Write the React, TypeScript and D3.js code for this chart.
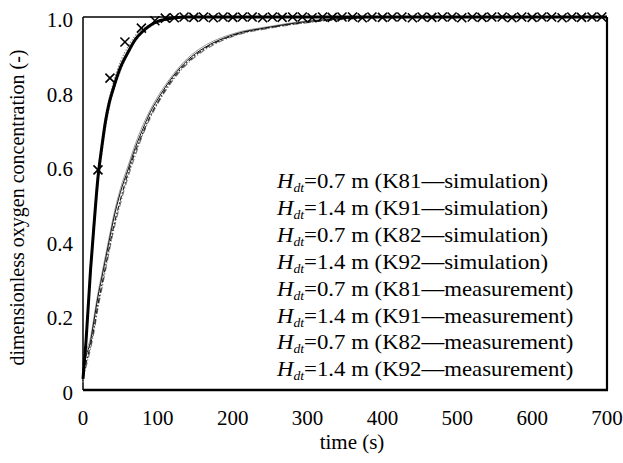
import React from 'react';
import * as d3 from 'd3';

// time axis for simulated curves (s)
const simTime = [0, 4, 10, 15, 20, 25, 30, 35, 40, 50, 60, 70, 80, 90, 100, 120, 140, 160, 200, 250, 300, 350, 400, 500, 600, 700];

const k81Sim = [0.03, 0.13, 0.32, 0.45, 0.57, 0.65, 0.72, 0.77, 0.805, 0.865, 0.905, 0.94, 0.962, 0.978, 0.988, 0.997, 1.0, 1.0, 1.0, 1.0, 1.0, 1.0, 1.0, 1.0, 1.0, 1.0];
const k82Sim = [0.04, 0.12, 0.3, 0.43, 0.55, 0.63, 0.7, 0.755, 0.795, 0.855, 0.9, 0.935, 0.958, 0.974, 0.985, 0.995, 0.999, 1.0, 1.0, 1.0, 1.0, 1.0, 1.0, 1.0, 1.0, 1.0];
const k91Sim = [0.05, 0.09, 0.13, 0.19, 0.25, 0.3, 0.35, 0.4, 0.45, 0.53, 0.59, 0.65, 0.7, 0.745, 0.78, 0.84, 0.885, 0.915, 0.952, 0.973, 0.988, 0.996, 1.0, 1.0, 1.0, 1.0];
const k92Sim = [0.06, 0.1, 0.14, 0.2, 0.26, 0.31, 0.36, 0.41, 0.46, 0.54, 0.6, 0.66, 0.71, 0.752, 0.787, 0.845, 0.89, 0.92, 0.955, 0.975, 0.99, 0.997, 1.0, 1.0, 1.0, 1.0];

// measured curves
const measTime = [0, 5, 10, 15, 20, 25, 30, 40, 50, 60, 70, 80, 90, 100, 120, 140, 160, 200, 250, 300, 350, 400, 500, 600, 700];
const k82Meas = [0.02, 0.16, 0.33, 0.47, 0.58, 0.66, 0.73, 0.82, 0.88, 0.92, 0.95, 0.968, 0.98, 0.988, 0.996, 0.999, 1.0, 1.0, 1.0, 1.0, 1.0, 1.0, 1.0, 1.0, 1.0];
const k91Meas = [0.04, 0.08, 0.12, 0.17, 0.23, 0.28, 0.33, 0.43, 0.51, 0.58, 0.64, 0.69, 0.735, 0.772, 0.835, 0.88, 0.912, 0.95, 0.972, 0.986, 0.995, 1.0, 1.0, 1.0, 1.0];
const k92Meas = [0.03, 0.07, 0.11, 0.16, 0.22, 0.27, 0.32, 0.42, 0.5, 0.57, 0.63, 0.685, 0.73, 0.768, 0.83, 0.876, 0.908, 0.948, 0.97, 0.985, 0.994, 0.999, 1.0, 1.0, 1.0];

// K81 measurement points (crosses)
const k81MeasTime = [20, 36, 56, 78, 96, 110, 122, 135, 148, 161, 174, 187, 200, 213, 226, 240, 253, 266, 280, 293, 306, 320, 333, 346, 360, 373, 386, 400, 413, 426, 440, 453, 466, 480, 493, 506, 520, 533, 546, 560, 573, 586, 600, 613, 626, 640, 653, 666, 680, 693];
const k81MeasVal = [0.59, 0.836, 0.933, 0.97, 0.99, 0.997, 0.998, 1.0, 0.999, 1.0, 0.998, 1.0, 0.999, 1.0, 1.0, 0.998, 1.0, 0.999, 1.0, 1.0, 0.998, 1.0, 0.999, 1.0, 1.0, 0.998, 1.0, 0.999, 1.0, 1.0, 0.998, 1.0, 0.999, 1.0, 1.0, 0.998, 1.0, 0.999, 1.0, 1.0, 0.998, 1.0, 0.999, 1.0, 1.0, 0.998, 1.0, 0.999, 1.0, 1.0];

const xTicks = [0, 100, 200, 300, 400, 500, 600, 700];
const yTicks = [0, 0.2, 0.4, 0.6, 0.8, 1.0];

const legendRows = [
  ['0.7', 'K81', 'simulation'],
  ['1.4', 'K91', 'simulation'],
  ['0.7', 'K82', 'simulation'],
  ['1.4', 'K92', 'simulation'],
  ['0.7', 'K81', 'measurement'],
  ['1.4', 'K91', 'measurement'],
  ['0.7', 'K82', 'measurement'],
  ['1.4', 'K92', 'measurement'],
];

const W = 623;
const H = 463;
const left = 83, right = 607, top = 17, bottom = 390;
const font = 'Liberation Serif, DejaVu Serif, serif';

export default function App() {
  const x = d3.scaleLinear().domain([0, 700]).range([left, right]);
  const y = d3.scaleLinear().domain([0, 1]).range([bottom, top]);

  const mkLine = (ts: number[], vs: number[]) =>
    d3.line<number>()
      .x((_, i) => x(ts[i]))
      .y((v) => y(v))
      .curve(d3.curveMonotoneX)(vs) || '';

  const curves = [
    { d: mkLine(measTime, k82Meas), stroke: '#888', w: 1.2, dash: '1.5 1.5' },
    { d: mkLine(measTime, k92Meas), stroke: '#777', w: 1.2, dash: '6 2 1 2' },
    { d: mkLine(measTime, k91Meas), stroke: '#222', w: 1.2, dash: '5 2 1.5 2' },
    { d: mkLine(simTime, k92Sim), stroke: '#999', w: 1, dash: '' },
    { d: mkLine(simTime, k91Sim), stroke: '#111', w: 1, dash: '' },
    { d: mkLine(simTime, k82Sim), stroke: '#aaa', w: 1.2, dash: '2 1.5' },
    { d: mkLine(simTime, k81Sim), stroke: '#000', w: 3, dash: '' },
  ];

  return (
    <svg width={W} height={H} style={{ position: 'absolute', left: 0, top: 0, background: '#fff' }}>
      <rect x={0} y={0} width={W} height={H} fill="#fff" />
      {/* frame */}
      <line x1={left} y1={top} x2={left} y2={bottom} stroke="#000" strokeWidth={1.5} />
      <line x1={left} y1={top} x2={right} y2={top} stroke="#000" strokeWidth={1.5} />
      <line x1={right} y1={top} x2={right} y2={bottom} stroke="#000" strokeWidth={2.2} />
      <line x1={left} y1={bottom} x2={right + 1} y2={bottom} stroke="#000" strokeWidth={2.5} />

      {curves.map((c, i) => (
        <path key={i} d={c.d} fill="none" stroke={c.stroke} strokeWidth={c.w} strokeDasharray={c.dash || undefined} />
      ))}

      {k81MeasTime.map((t, i) => {
        const cx = x(t), cy = y(k81MeasVal[i]), s = 4.5;
        return (
          <g key={i} stroke="#000" strokeWidth={1.6}>
            <line x1={cx - s} y1={cy - s} x2={cx + s} y2={cy + s} />
            <line x1={cx - s} y1={cy + s} x2={cx + s} y2={cy - s} />
          </g>
        );
      })}

      {/* ticks */}
      <g style={{ fontFamily: font }} fontSize={21} fill="#000">
        {xTicks.map((t) => (
          <text key={t} x={x(t)} y={425} textAnchor="middle">{t}</text>
        ))}
        {yTicks.map((t) => (
          <text key={t} x={73} y={y(t) + 10} textAnchor="end">{t === 0 ? '0' : d3.format('.1f')(t)}</text>
        ))}
        <text x={352} y={449} textAnchor="middle">time (s)</text>
        <text fontSize={20} transform={`translate(24,${(top + bottom) / 2 + 4}) rotate(-90)`} textAnchor="middle">
          dimensionless oxygen concentration (-)
        </text>
      </g>

      {/* legend */}
      <g style={{ fontFamily: font }} fontSize={20} fill="#000">
        {legendRows.map((r, i) => (
          <text key={i} transform={`translate(277,${188 + i * 26.9}) scale(1.14,1)`}>
            <tspan fontStyle="italic">H</tspan>
            <tspan fontStyle="italic" fontSize={12} dy={4}>dt</tspan>
            <tspan dy={-4}>{`=${r[0]} m (${r[1]}\u2014${r[2]})`}</tspan>
          </text>
        ))}
      </g>
    </svg>
  );
}
